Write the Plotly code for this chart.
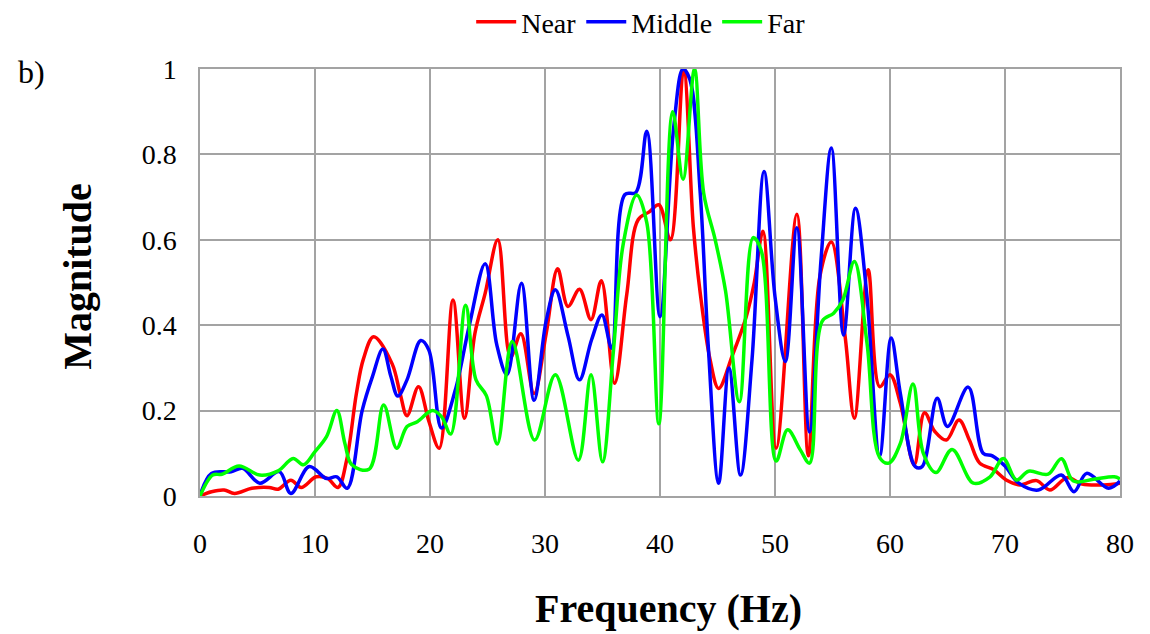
import plotly.graph_objects as go

# Frequency spectra (normalised magnitude) at three distances
near_hz = [0, 1, 2.1, 3.0, 4.5, 6.0, 6.8, 7.9, 8.8, 10.1, 11.1, 12.0, 12.75, 13.6, 14.2, 15.1,
           16.7, 17.4, 18.0, 19.0, 19.9, 20.8, 22.0, 23.0, 23.9, 24.8, 25.9, 27.0, 27.9, 29.05,
           30.1, 31.1, 32.0, 33.0, 34.0, 34.9, 36.05, 37.1, 38.1, 39.1, 39.9, 40.9, 42.05, 42.9,
           43.5, 44.35, 45.1, 46.3, 47.5, 48.2, 48.95, 50.1, 51.9, 52.9, 53.9, 54.9, 56.1, 56.9,
           58.1, 59.1, 60.0, 60.9, 62.1, 63.0, 63.9, 64.9, 66.0, 66.9, 67.8, 69.0, 70.1, 71.3,
           72.75, 73.9, 75.4, 76.7, 78.6, 80]
near_mag = [0, 0.01, 0.014, 0.006, 0.018, 0.02, 0.016, 0.037, 0.02, 0.045, 0.041, 0.02, 0.084, 0.24, 0.32, 0.373,
            0.31, 0.24, 0.188, 0.256, 0.175, 0.112, 0.459, 0.182, 0.38, 0.475, 0.60, 0.325, 0.38, 0.24,
            0.38, 0.532, 0.444, 0.484, 0.413, 0.504, 0.264, 0.47, 0.647, 0.666, 0.682, 0.60, 1.0, 0.63,
            0.475, 0.32, 0.252, 0.33, 0.42, 0.5, 0.62, 0.112, 0.66, 0.094, 0.514, 0.595, 0.373, 0.182,
            0.53, 0.256, 0.284, 0.217, 0.073, 0.195, 0.151, 0.131, 0.178, 0.131, 0.077, 0.062, 0.0375, 0.026,
            0.036, 0.014, 0.043, 0.028, 0.026, 0.03]

middle_hz = [0, 1.0, 2.7, 3.7, 5.2, 6.9, 7.9, 9.5, 11.0, 11.9, 12.8, 14.1, 15.0, 15.9, 16.6, 17.2,
             18.0, 19.2, 19.9, 21.0, 22.2, 23.4, 24.8, 25.8, 26.7, 27.95, 29.05, 30.1, 30.9, 32.0,
             33.0, 34.05, 34.95, 35.8, 36.95, 37.9, 38.85, 40.0, 41.2, 42.0, 42.6, 43.5, 44.2, 45.1,
             46.0, 47.0, 48.0, 49.05, 50.0, 50.9, 51.9, 53.0, 54.0, 54.9, 55.96, 57.0, 57.97, 59.1,
             60.1, 60.9, 62.2, 62.8, 64.1, 65.0, 66.8, 68.1, 68.9, 70.0, 71.2, 72.9, 74.9, 76.0,
             77.1, 79.0, 80]
middle_mag = [0, 0.053, 0.057, 0.065, 0.03, 0.057, 0.006, 0.069, 0.041, 0.045, 0.018, 0.2, 0.28, 0.344, 0.28, 0.234,
              0.272, 0.364, 0.342, 0.159, 0.248, 0.397, 0.544, 0.355, 0.284, 0.498, 0.224, 0.41, 0.483, 0.375,
              0.272, 0.366, 0.424, 0.346, 0.706, 0.711, 0.854, 0.42, 0.866, 1.0, 0.975, 0.709, 0.35, 0.03,
              0.3, 0.049, 0.319, 0.76, 0.467, 0.315, 0.628, 0.15, 0.553, 0.815, 0.377, 0.674, 0.475, 0.094,
              0.37, 0.24, 0.069, 0.069, 0.229, 0.163, 0.255, 0.1, 0.094, 0.07, 0.03, 0.014, 0.049, 0.01,
              0.053, 0.018, 0.035]

far_hz = [0, 1.1, 1.9, 3.4, 5.2, 6.8, 8.1, 9.0, 10.0, 11.0, 11.9, 12.6, 13.2, 14.7, 15.97, 17.1,
          18.0, 18.9, 20.2, 21.0, 21.8, 23.1, 24.0, 24.9, 25.85, 27.15, 29.1, 30.9, 32.9, 34.0,
          35.0, 35.95, 36.8, 37.97, 38.85, 39.9, 41.1, 42.0, 43.0, 43.8, 44.8, 45.7, 46.9, 48.1,
          48.8, 50.1, 51.1, 52.2, 53.0, 54.1, 55.1, 55.9, 56.9, 58.0, 59.1, 59.9, 60.9, 62.0,
          62.9, 64.0, 65.4, 67.25, 68.7, 69.85, 71.0, 72.05, 73.75, 74.9, 75.95, 77.7, 79.5, 80]
far_mag = [0, 0.049, 0.051, 0.07, 0.049, 0.059, 0.088, 0.073, 0.104, 0.139, 0.2, 0.123, 0.073, 0.0625, 0.213, 0.112,
           0.1625, 0.174, 0.2, 0.186, 0.145, 0.447, 0.272, 0.235, 0.122, 0.362, 0.131, 0.284, 0.084, 0.284,
           0.08, 0.34, 0.59, 0.705, 0.64, 0.169, 0.9, 0.742, 1.0, 0.709, 0.6, 0.48, 0.221, 0.605,
           0.575, 0.082, 0.155, 0.108, 0.077, 0.409, 0.428, 0.459, 0.549, 0.358, 0.09, 0.077, 0.123, 0.2625,
           0.1, 0.055, 0.109, 0.03, 0.045, 0.088, 0.0375, 0.058, 0.051, 0.0875, 0.035, 0.039, 0.045, 0.04]

y_ticks = [0, 0.2, 0.4, 0.6, 0.8, 1]
y_tick_text = ["0", "0.2", "0.4", "0.6", "0.8", "1"]

FONT = "Liberation Serif, Times New Roman, serif"
GRID = "#a3a3a3"

fig = go.Figure()
for name, xs, ys, color in [("Near", near_hz, near_mag, "#ff0000"),
                            ("Middle", middle_hz, middle_mag, "#0000ff"),
                            ("Far", far_hz, far_mag, "#00ff00")]:
    fig.add_trace(go.Scatter(x=xs, y=ys, name=name, mode="lines",
                             line=dict(color=color, width=3.5, shape="spline", smoothing=1.0)))

fig.update_layout(
    width=1150, height=634,
    margin=dict(l=200, r=30, t=69, b=138, autoexpand=False),
    paper_bgcolor="white", plot_bgcolor="white",
    font=dict(family=FONT, color="black", size=28),
    showlegend=True,
    legend=dict(orientation="h", x=0.479, xanchor="center", y=1.11, yanchor="middle",
                font=dict(family=FONT, size=28), itemwidth=40, tracegroupgap=0,
                bgcolor="rgba(0,0,0,0)"),
    xaxis=dict(range=[0, 80], dtick=10, tick0=0, showgrid=True, gridcolor=GRID, gridwidth=1.5,
               showline=True, linecolor=GRID, linewidth=1.5, mirror=True, zeroline=False,
               ticks="", ticklabelstandoff=22, tickfont=dict(family=FONT, size=28)),
    yaxis=dict(range=[0, 1], tickvals=y_ticks, ticktext=y_tick_text, showgrid=True,
               gridcolor=GRID, gridwidth=1.5, showline=True, linecolor=GRID, linewidth=1.5,
               mirror=True, zeroline=False, ticks="", ticklabelstandoff=16,
               tickfont=dict(family=FONT, size=28)),
    annotations=[
        dict(text="<b>Frequency (Hz)</b>", xref="paper", yref="paper", x=0.509, y=-0.263,
             xanchor="center", yanchor="middle", showarrow=False,
             font=dict(family=FONT, size=40)),
        dict(text="<b>Magnitude</b>", xref="paper", yref="paper", x=-0.134, y=0.515,
             xanchor="center", yanchor="middle", textangle=-90, showarrow=False,
             font=dict(family=FONT, size=40)),
        dict(text="b)", xref="paper", yref="paper", x=-0.2, y=0.993,
             xanchor="left", yanchor="middle", showarrow=False,
             font=dict(family=FONT, size=32)),
    ],
)

fig.write_html("out.html")
